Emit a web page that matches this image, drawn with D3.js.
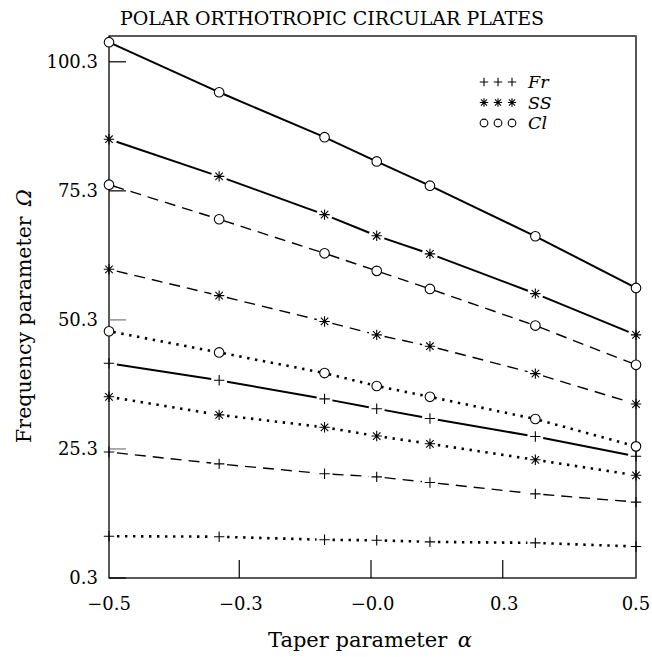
<!DOCTYPE html>
<html>
<head>
<meta charset="utf-8">
<script src="https://cdn.jsdelivr.net/npm/d3@7"></script>
<style>
  body { margin: 0; background: #fff; }
  text { font-family: "DejaVu Serif", serif; fill: #000; }
</style>
</head>
<body>
<svg id="chart" width="652" height="657"></svg>
<script>
// taper parameter values where frequencies were computed (as placed in the plot)
const alpha = [-0.5, -0.291, -0.091, 0.008, 0.109, 0.309, 0.5];

// frequency parameter
const clSolid = [104.1, 94.4, 85.7, 81.0, 76.3, 66.5, 56.5];
const ssSolid = [85.3, 78.1, 70.7, 66.6, 63.1, 55.4, 47.4];
const frSolid = [41.9, 38.6, 35.0, 33.1, 31.2, 27.7, 23.9];
const clDashed = [76.5, 69.8, 63.2, 59.8, 56.3, 49.2, 41.6];
const ssDashed = [60.1, 55.0, 50.0, 47.4, 45.2, 39.9, 34.0];
const frDashed = [24.7, 22.4, 20.5, 19.9, 18.8, 16.6, 15.0];
const clDotted = [48.1, 44.0, 40.0, 37.5, 35.4, 31.1, 25.8];
const ssDotted = [35.4, 31.9, 29.5, 27.8, 26.3, 23.2, 20.2];
const frDotted = [8.4, 8.3, 7.7, 7.6, 7.3, 7.1, 6.4];

// axis ticks
const xTicks = [-0.5, -0.25, 0, 0.25, 0.5];
const xTickLabels = ["\u22120.5", "\u22120.3", "\u22120.0", "0.3", "0.5"];
const yTicks = [0.3, 25.3, 50.3, 75.3, 100.3];

const legendItems = ["Fr", "SS", "Cl"];

const series = [
  { bc: "Cl", dash: null, values: clSolid },
  { bc: "SS", dash: null, values: ssSolid },
  { bc: "Fr", dash: null, values: frSolid },
  { bc: "Cl", dash: "dashed", values: clDashed },
  { bc: "SS", dash: "dashed", values: ssDashed },
  { bc: "Fr", dash: "dashed", values: frDashed },
  { bc: "Cl", dash: "dotted", values: clDotted },
  { bc: "SS", dash: "dotted", values: ssDotted },
  { bc: "Fr", dash: "dotted", values: frDotted },
];

const svg = d3.select("#chart");
const pLeft = 109, pRight = 636, pTop = 36, pBottom = 578;

const x = d3.scaleLinear().domain([-0.5, 0.5]).range([pLeft, pRight]);
const y = d3.scaleLinear().domain([0.3, 105.3]).range([pBottom, pTop]);

// frame
svg.append("rect")
  .attr("x", pLeft).attr("y", pTop)
  .attr("width", pRight - pLeft).attr("height", pBottom - pTop)
  .attr("fill", "none").attr("stroke", "#000").attr("stroke-width", 1.3);
svg.append("line")
  .attr("x1", pRight).attr("x2", pRight).attr("y1", pTop).attr("y2", pBottom)
  .attr("stroke", "#555").attr("stroke-width", 2);

// ticks drawn inward
svg.selectAll(".ytick").data(yTicks).enter().append("line")
  .attr("x1", pLeft).attr("x2", pLeft + 17)
  .attr("y1", (d) => y(d)).attr("y2", (d) => y(d))
  .attr("stroke", (d, i) => (i == 2 || i == 1 ? "#777" : "#000"))
  .attr("stroke-width", 1.2);
svg.selectAll(".ylab").data(yTicks).enter().append("text")
  .attr("x", pLeft - 11).attr("y", (d) => y(d) + 6)
  .attr("text-anchor", "end").attr("font-size", 18)
  .text((d) => d.toFixed(1));

svg.selectAll(".xtick").data(xTicks.slice(1, -1)).enter().append("line")
  .attr("x1", (d) => x(d) - 1.5).attr("x2", (d) => x(d) - 1.5)
  .attr("y1", pBottom).attr("y2", pBottom - 18)
  .attr("stroke", "#000").attr("stroke-width", 1.2);
svg.selectAll(".xlab").data(xTicks).enter().append("text")
  .attr("x", (d) => x(d)).attr("y", pBottom + 32)
  .attr("text-anchor", "middle").attr("font-size", 18)
  .text((d, i) => xTickLabels[i]);

// titles
svg.append("text")
  .attr("x", 332).attr("y", 25).attr("text-anchor", "middle")
  .attr("font-size", 19).text("POLAR ORTHOTROPIC CIRCULAR PLATES");

const xl = svg.append("text")
  .attr("x", 370).attr("y", 647).attr("text-anchor", "middle").attr("font-size", 21);
xl.append("tspan").text("Taper parameter\u2002");
xl.append("tspan").attr("font-style", "italic").text("\u03b1");

const yl = svg.append("text")
  .attr("transform", "translate(31,316) rotate(-90)")
  .attr("text-anchor", "middle").attr("font-size", 20.5);
yl.append("tspan").text("Frequency parameter\u2002");
yl.append("tspan").attr("font-style", "italic").text("\u03a9");

// marker shapes
const plusPath = (s) => `M${-s},0H${s}M0,${-s}V${s}`;
const starPath = (s) => {
  const k = s * 0.72;
  return `M${-s},0H${s}M0,${-s}V${s}M${-k},${-k}L${k},${k}M${-k},${k}L${k},${-k}`;
};

function drawMarker(g, bc, px, py, s) {
  if (bc == "Cl") {
    g.append("circle").attr("cx", px).attr("cy", py).attr("r", s * 0.92)
      .attr("fill", "#fff").attr("stroke", "#000").attr("stroke-width", 1.1);
  } else {
    g.append("path").attr("transform", `translate(${px},${py})`)
      .attr("d", bc == "Fr" ? plusPath(s) : starPath(s))
      .attr("fill", "none").attr("stroke", "#000").attr("stroke-width", 1.1);
  }
}

const plot = svg.append("g");

series.forEach((s) => {
  const pts = alpha.map((a, i) => [x(a), y(s.values[i])]);
  const gap = s.bc == "Cl" ? 4.5 : 8;
  // each segment is shortened so it stops short of the markers
  for (let i = 0; i < pts.length - 1; i++) {
    const [x1, y1] = pts[i], [x2, y2] = pts[i + 1];
    const len = Math.hypot(x2 - x1, y2 - y1);
    const ux = (x2 - x1) / len, uy = (y2 - y1) / len;
    const seg = plot.append("line")
      .attr("x1", x1 + ux * gap).attr("y1", y1 + uy * gap)
      .attr("x2", x2 - ux * gap).attr("y2", y2 - uy * gap)
      .attr("stroke", "#000");
    if (s.dash == "dashed") seg.attr("stroke-width", 1.4).attr("stroke-dasharray", "11,7");
    else if (s.dash == "dotted") seg.attr("stroke-width", 2.6).attr("stroke-dasharray", "2.4,5.6");
    else seg.attr("stroke-width", 2);
  }
  pts.forEach(([px, py]) => drawMarker(plot, s.bc, px, py, 5.2));
});

// legend
const legend = svg.append("g");
legendItems.forEach((name, i) => {
  const ly = 82 + i * 20.5;
  [484, 498, 512].forEach((lx) => drawMarker(legend, name, lx, ly, 4.2));
  legend.append("text")
    .attr("x", 528).attr("y", ly + 6)
    .attr("font-size", 17.5).attr("font-style", "italic")
    .text(name);
});
</script>
</body>
</html>
